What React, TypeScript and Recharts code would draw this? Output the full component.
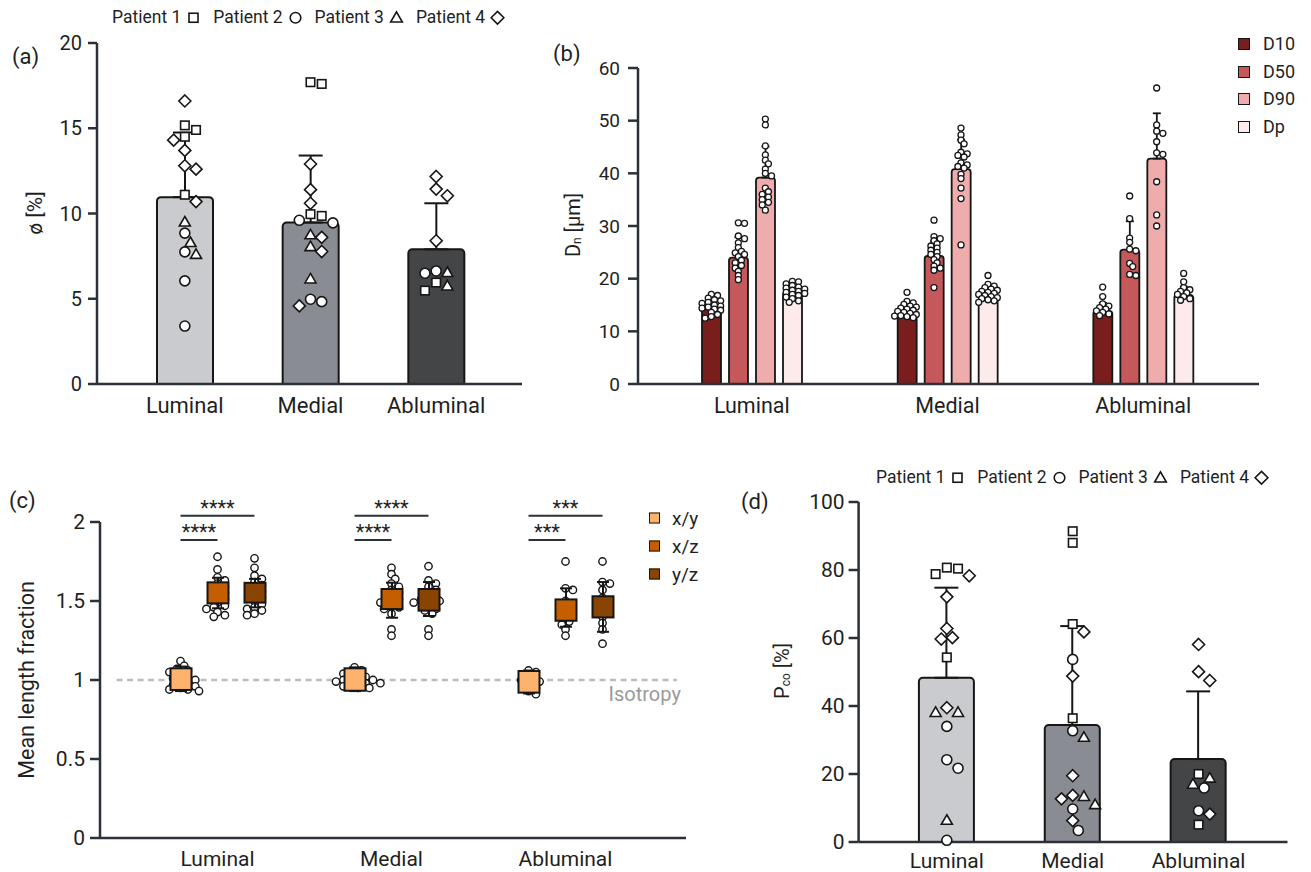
import React from "react";
import { ComposedChart, Bar, Scatter, XAxis, YAxis, ErrorBar, ReferenceLine, Cell } from "recharts";

const FONT = "Roboto, 'Noto Sans', 'DejaVu Sans', sans-serif";
const INK = "#1f1f1f";
const AXIS = "#2c3038";
const EDGE = "#161616";

const REGIONS = ["Luminal", "Medial", "Abluminal"];
const REGION_FILL = ["#c9cbce", "#8a8c93", "#444547"];
const PATIENTS = ["Patient 1", "Patient 2", "Patient 3", "Patient 4"];

// (a) porosity, mean + SD per region
const PHI_MEAN = [10.96, 9.47, 7.9];
const PHI_SD = [3.79, 3.93, 2.7];
// points per patient, indexed by region
const PHI_P1 = [[15.17, 14.9, 14.5, 11.1], [17.7, 17.6, 9.96, 9.86], [5.95, 5.48]];
const PHI_P2 = [[8.85, 7.75, 6.05, 3.4], [9.6, 9.45, 4.97, 4.83], [6.63, 6.5]];
const PHI_P3 = [[9.5, 8.3, 7.6], [8.75, 8.06, 6.16], [6.54, 5.75]];
const PHI_P4 = [[16.6, 14.3, 13.7, 12.8, 12.6, 10.7], [12.9, 11.4, 10.6, 8.6, 7.77, 4.58], [12.17, 11.43, 11.04, 8.4]];

// (b) particle sizes
const DN_KEYS = ["D10", "D50", "D90", "Dp"];
const DN_FILL = ["#7a1d1d", "#c4585a", "#eeacac", "#fcebea"];
const D10_MEAN = [14.8, 14.0, 13.9];
const D50_MEAN = [24.0, 24.3, 25.5];
const D90_MEAN = [39.2, 40.8, 42.8];
const DP_MEAN = [17.5, 16.6, 16.9];
const D10_SD = [1.3, 1.2, 1.5];
const D50_SD = [3.9, 2.8, 5.4];
const D90_SD = [5.9, 5.6, 8.6];
const DP_SD = [1.1, 1.2, 1.6];
const D10_PTS = [
  [17.0, 16.8, 16.3, 16.0, 15.8, 15.5, 15.3, 15.0, 14.8, 14.6, 14.4, 14.2, 14.0, 13.6, 13.2, 12.8, 12.5],
  [17.4, 15.7, 15.4, 15.1, 14.8, 14.6, 14.4, 14.2, 14.0, 13.8, 13.6, 13.4, 13.2, 13.0, 12.9, 12.8, 12.6],
  [18.4, 16.6, 15.2, 14.8, 14.5, 14.2, 13.9, 13.6, 13.3, 13.0],
];
const D50_PTS = [
  [30.6, 30.5, 28.1, 27.6, 26.8, 25.9, 25.2, 24.9, 24.6, 24.2, 23.5, 23.0, 22.5, 22.0, 21.4, 20.6, 19.8],
  [31.1, 28.0, 27.6, 27.2, 26.6, 26.2, 25.8, 25.4, 25.0, 24.6, 24.2, 23.6, 23.0, 22.4, 22.0, 21.6, 18.3],
  [35.7, 31.4, 27.7, 26.9, 25.6, 25.3, 22.9, 22.3, 20.8, 20.6],
];
const D90_PTS = [
  [50.3, 49.2, 45.2, 43.5, 42.5, 41.8, 40.8, 40.0, 39.5, 37.2, 36.5, 36.0, 35.5, 35.0, 34.5, 34.0, 33.0],
  [48.6, 47.3, 46.3, 45.6, 44.0, 43.7, 43.4, 43.1, 42.0, 41.6, 41.3, 41.0, 39.8, 39.0, 37.2, 35.2, 26.4],
  [56.2, 49.2, 48.0, 47.6, 46.0, 43.9, 43.6, 38.4, 32.1, 30.0],
];
const DP_PTS = [
  [19.5, 19.4, 19.0, 18.7, 18.4, 18.2, 18.0, 17.8, 17.6, 17.4, 17.2, 17.0, 16.8, 16.5, 16.2, 15.8, 15.5],
  [20.6, 18.9, 18.6, 18.3, 18.0, 17.8, 17.6, 17.4, 17.2, 17.0, 16.8, 16.6, 16.4, 16.2, 16.0, 15.8, 15.5],
  [21.0, 19.4, 18.3, 17.9, 17.6, 17.3, 17.0, 16.6, 16.2, 15.9],
];

// (c) mean length fractions: box [low, high], whiskers [low, high], points
const RATIO_KEYS = ["xy", "xz", "yz"];
const RATIO_NAMES = ["x/y", "x/z", "y/z"];
const RATIO_FILL = ["#fdb36e", "#c45e00", "#884400"];
const XY_BOX = [[0.937, 1.074], [0.932, 1.074], [0.92, 1.057]];
const XZ_BOX = [[1.485, 1.618], [1.449, 1.576], [1.375, 1.51]];
const YZ_BOX = [[1.49, 1.615], [1.439, 1.576], [1.396, 1.53]];
const XY_WHISK = [[0.93, 1.085], [0.93, 1.08], [0.915, 1.06]];
const XZ_WHISK = [[1.454, 1.647], [1.394, 1.616], [1.337, 1.58]];
const YZ_WHISK = [[1.46, 1.64], [1.405, 1.62], [1.305, 1.62]];
const XY_PTS = [
  [1.12, 1.09, 1.07, 1.06, 1.05, 1.03, 1.02, 1.01, 1.0, 0.99, 0.98, 0.97, 0.96, 0.95, 0.94, 0.94, 0.93],
  [1.08, 1.06, 1.05, 1.04, 1.03, 1.02, 1.01, 1.0, 1.0, 0.99, 0.99, 0.98, 0.98, 0.97, 0.96, 0.95, 0.95],
  [1.06, 1.05, 1.03, 1.01, 1.0, 0.99, 0.97, 0.95, 0.93, 0.91],
];
const XZ_PTS = [
  [1.78, 1.7, 1.65, 1.63, 1.61, 1.59, 1.57, 1.55, 1.53, 1.51, 1.49, 1.47, 1.46, 1.45, 1.43, 1.41, 1.4],
  [1.71, 1.67, 1.64, 1.61, 1.59, 1.57, 1.55, 1.53, 1.51, 1.5, 1.49, 1.47, 1.46, 1.45, 1.42, 1.32, 1.28],
  [1.75, 1.58, 1.57, 1.5, 1.45, 1.4, 1.37, 1.35, 1.32, 1.28],
];
const YZ_PTS = [
  [1.77, 1.71, 1.66, 1.64, 1.62, 1.6, 1.58, 1.56, 1.54, 1.52, 1.5, 1.48, 1.46, 1.45, 1.44, 1.42, 1.41],
  [1.72, 1.63, 1.61, 1.59, 1.57, 1.55, 1.53, 1.51, 1.51, 1.5, 1.49, 1.47, 1.45, 1.44, 1.42, 1.32, 1.28],
  [1.75, 1.62, 1.61, 1.57, 1.52, 1.45, 1.4, 1.36, 1.32, 1.23],
];
// significance brackets: region, from series, to series, level, stars
const SIG_REGION = [0, 0, 1, 1, 2, 2];
const SIG_FROM = [0, 0, 0, 0, 0, 0];
const SIG_TO = [2, 1, 2, 1, 2, 1];
const SIG_LEVEL = [2.04, 1.886, 2.04, 1.886, 2.04, 1.886];
const SIG_TEXT = ["****", "****", "****", "****", "***", "***"];
const ISO_VALUE = 1;
const ISO_SPAN = [-0.58, 2.64];

// (d) Pco
const PCO_MEAN = [48.3, 34.4, 24.4];
const PCO_SD = [26.5, 29.1, 19.9];
const PCO_P1 = [[80.7, 80.4, 78.8, 54.3], [91.4, 88.0, 64.1, 36.4], [20.0, 5.1]];
const PCO_P2 = [[34.0, 24.2, 21.7, 0.5], [53.7, 32.7, 9.7, 3.4], [15.9, 9.2]];
const PCO_P3 = [[38.1, 38.1, 6.4], [30.8, 13.4, 11.0], [18.8, 17.0]];
const PCO_P4 = [[78.3, 72.1, 62.8, 60.1, 59.7, 39.5], [61.8, 48.8, 19.5, 13.7, 12.7, 6.3], [58.1, 50.1, 47.5, 8.2]];

type Pt = { g: number; v: number; p: number; dx: number };

// simple beeswarm: horizontal pixel offsets; minDist is allowed centre distance in units of r
function swarm(vals: number[], ppu: number, r: number, minDist: number): number[] {
  const placed: [number, number][] = [];
  const lim = (minDist * r) ** 2;
  return vals.map((v) => {
    const y = v * ppu;
    for (let k = 0; k < 40; k++) {
      const x = k === 0 ? 0 : (k % 2 ? 1 : -1) * Math.ceil(k / 2) * r;
      if (placed.every(([px, py]) => (px - x) ** 2 + (py - y) ** 2 >= lim)) {
        placed.push([x, y]);
        return x;
      }
    }
    return 0;
  });
}

function patientRows(byPatient: number[][][], ppu: number, r: number): Pt[] {
  const rows: Pt[] = [];
  REGIONS.forEach((_, g) => {
    const pts = byPatient.flatMap((arr, p) => arr[g].map((v) => ({ g, v, p, dx: 0 })));
    pts.sort((a, b) => b.v - a.v);
    const dx = swarm(pts.map((d) => d.v), ppu, r, 1.9);
    pts.forEach((d, i) => rows.push({ ...d, dx: dx[i] }));
  });
  return rows;
}

function plainRows(byRegion: number[][], ppu: number, r: number, minDist: number): Pt[] {
  const rows: Pt[] = [];
  byRegion.forEach((vals, g) => {
    const sorted = [...vals].sort((a, b) => b - a);
    const dx = swarm(sorted, ppu, r, minDist);
    sorted.forEach((v, i) => rows.push({ g, v, p: 1, dx: dx[i] }));
  });
  return rows;
}

function Marker({ kind, x, y, s }: { kind: number; x: number; y: number; s: number }) {
  const st = { fill: "#fff", stroke: EDGE, strokeWidth: 1.6 };
  if (kind === 0) return <rect x={x - s * 0.85} y={y - s * 0.85} width={s * 1.7} height={s * 1.7} {...st} />;
  if (kind === 1) return <circle cx={x} cy={y} r={s} {...st} />;
  if (kind === 2)
    return <polygon points={`${x},${y - s * 1.1} ${x + s * 1.1},${y + s * 0.8} ${x - s * 1.1},${y + s * 0.8}`} {...st} />;
  return <polygon points={`${x},${y - s * 1.2} ${x + s * 1.2},${y} ${x},${y + s * 1.2} ${x - s * 1.2},${y}`} {...st} />;
}

function Txt({ x, y, size = 20, anchor = "start", rotate = false, color = INK, children }: any) {
  const tx = anchor === "middle" || rotate ? "-50%" : anchor === "end" ? "-100%" : "0";
  return (
    <div
      style={{
        position: "absolute",
        left: x,
        top: y,
        transform: `translate(${tx}, -50%)${rotate ? " rotate(-90deg)" : ""}`,
        fontSize: size,
        fontFamily: FONT,
        color,
        whiteSpace: "nowrap",
        lineHeight: 1,
      }}
    >
      {children}
    </div>
  );
}

function PatientLegend({ x, y }: { x: number; y: number }) {
  return (
    <div
      style={{
        position: "absolute",
        left: x,
        top: y,
        transform: "translateY(-50%)",
        display: "flex",
        alignItems: "center",
        fontFamily: FONT,
        fontSize: 17.5,
        color: INK,
        whiteSpace: "nowrap",
        lineHeight: 1,
      }}
    >
      {PATIENTS.map((p, i) => (
        <span key={p} style={{ display: "flex", alignItems: "center", marginRight: i < 3 ? 11 : 0 }}>
          {p}
          <svg width={17} height={17} style={{ marginLeft: 4 }}>
            <Marker kind={i} x={8.5} y={8.5} s={5.3} />
          </svg>
        </span>
      ))}
    </div>
  );
}

const axisStyle = { stroke: AXIS, strokeWidth: 2.5 };
const X_H = 20; // x-axis band height reserved by recharts

// ---------- (a) ----------
const A_W = 540, A_H = 420;
const A_M = { top: 43, right: 18, bottom: 36 - X_H, left: 52 };
const A_PAD = { left: 25, right: 23 };
const A_PPU = (A_H - A_M.top - A_M.bottom - X_H) / 20;

function PanelA() {
  const data = REGIONS.map((name, i) => ({ name, mean: PHI_MEAN[i], err: [0, PHI_SD[i]] }));
  const pts = patientRows([PHI_P1, PHI_P2, PHI_P3, PHI_P4], A_PPU, 5.6);
  return (
    <ComposedChart width={A_W} height={A_H} data={data} margin={A_M}>
      <XAxis dataKey="name" height={X_H} tickSize={0} tickMargin={13} axisLine={axisStyle} padding={A_PAD}
        tick={{ fill: INK, fontSize: 22, fontFamily: FONT }} />
      <XAxis xAxisId="s" type="number" dataKey="g" domain={[-0.5, 2.5]} hide padding={A_PAD} />
      <YAxis domain={[0, 20]} ticks={[0, 5, 10, 15, 20]} width={45} tickSize={9} tickMargin={6}
        axisLine={axisStyle} tickLine={axisStyle} tick={{ fill: INK, fontSize: 20, fontFamily: FONT }} />
      <Bar dataKey="mean" barSize={56} stroke={EDGE} strokeWidth={2} radius={[4, 4, 0, 0]} isAnimationActive={false}>
        {data.map((_, i) => <Cell key={i} fill={REGION_FILL[i]} />)}
        <ErrorBar dataKey="err" width={12} stroke={EDGE} strokeWidth={2} direction="y" isAnimationActive={false} />
      </Bar>
      <Scatter xAxisId="s" data={pts} dataKey="v" isAnimationActive={false}
        shape={(p: any) => <Marker kind={p.payload.p} x={p.cx + p.payload.dx} y={p.cy} s={5} />} />
    </ComposedChart>
  );
}

// ---------- (b) ----------
const B_W = 720, B_H = 420;
const B_M = { top: 68, right: 21, bottom: 36 - X_H, left: 33 };
const B_PAD = { left: 16, right: 18 };
const B_BAR = 19, B_GAP = 8;
const B_PPU = (B_H - B_M.top - B_M.bottom - X_H) / 60;

function PanelB() {
  const means = [D10_MEAN, D50_MEAN, D90_MEAN, DP_MEAN];
  const sds = [D10_SD, D50_SD, D90_SD, DP_SD];
  const pts = [D10_PTS, D50_PTS, D90_PTS, DP_PTS].map((arr) => plainRows(arr, B_PPU, 3.1, 1.35));
  const data = REGIONS.map((name, g) => {
    const row: any = { name };
    DN_KEYS.forEach((k, t) => {
      row[k] = means[t][g];
      row[k + "e"] = [0, sds[t][g]];
    });
    return row;
  });
  return (
    <ComposedChart width={B_W} height={B_H} data={data} margin={B_M} barGap={B_GAP}>
      <XAxis dataKey="name" height={X_H} tickSize={0} tickMargin={14} axisLine={axisStyle} padding={B_PAD}
        tick={{ fill: INK, fontSize: 21.5, fontFamily: FONT }} />
      <XAxis xAxisId="s" type="number" dataKey="g" domain={[-0.5, 2.5]} hide padding={B_PAD} />
      <YAxis domain={[0, 60]} ticks={[0, 10, 20, 30, 40, 50, 60]} width={45} tickSize={10} tickMargin={8}
        axisLine={axisStyle} tickLine={axisStyle} tick={{ fill: INK, fontSize: 19, fontFamily: FONT }} />
      {DN_KEYS.map((k, t) => (
        <Bar key={k} dataKey={k} barSize={B_BAR} fill={DN_FILL[t]} stroke={EDGE} strokeWidth={1.8}
          radius={[3, 3, 0, 0]} isAnimationActive={false}>
          <ErrorBar dataKey={k + "e"} width={4} stroke={EDGE} strokeWidth={1.8} direction="y" isAnimationActive={false} />
        </Bar>
      ))}
      {DN_KEYS.map((k, t) => (
        <Scatter key={"s" + k} xAxisId="s" data={pts[t]} dataKey="v" isAnimationActive={false}
          shape={(p: any) => (
            <circle cx={p.cx + (t - 1.5) * (B_BAR + B_GAP) + p.payload.dx} cy={p.cy} r={3}
              fill="#fff" stroke={EDGE} strokeWidth={1.3} />
          )} />
      ))}
    </ComposedChart>
  );
}

// ---------- (c) ----------
const C_W = 720, C_H = 432;
const C_YW = 50;
const C_M = { top: 82, right: 34, bottom: 34 - X_H, left: 50 };
const C_PAD = { left: 30.5, right: 33.5 };
const C_BAR = 21, C_GAP = 16;
const C_PPU = (C_H - C_M.top - C_M.bottom - X_H) / 2;
const C_BAND = (C_W - C_M.left - C_YW - C_M.right - C_PAD.left - C_PAD.right) / 3;
const cOff = (t: number) => ((t - 1) * (C_BAR + C_GAP)) / C_BAND;

function boxShape(key: string) {
  return (props: any) => {
    const { x, y, width, height, payload, fill } = props;
    const [lo, hi] = payload[key];
    const [wlo, whi] = payload[key + "W"];
    const top = Math.min(y, y + height);
    const bot = Math.max(y, y + height);
    const cx = x + width / 2;
    const yHi = top - (whi - hi) * C_PPU;
    const yLo = bot + (lo - wlo) * C_PPU;
    const cap = 6;
    return (
      <g>
        <line x1={cx} x2={cx} y1={yHi} y2={yLo} stroke={EDGE} strokeWidth={2} />
        <line x1={cx - cap} x2={cx + cap} y1={yHi} y2={yHi} stroke={EDGE} strokeWidth={2} />
        <line x1={cx - cap} x2={cx + cap} y1={yLo} y2={yLo} stroke={EDGE} strokeWidth={2} />
        <rect x={x} y={top} width={width} height={bot - top} fill={fill} stroke={EDGE} strokeWidth={2} />
      </g>
    );
  };
}

// lower layer of (c): isotropy line, brackets and the individual points, drawn beneath the boxes
function PanelCDots() {
  const pts = [XY_PTS, XZ_PTS, YZ_PTS].map((arr) => plainRows(arr, C_PPU, 3.7, 1.35));
  const margin = { ...C_M, left: C_M.left + C_YW, bottom: C_M.bottom + X_H };
  return (
    <ComposedChart width={C_W} height={C_H} margin={margin}>
      <XAxis xAxisId="s" type="number" dataKey="g" domain={[-0.5, 2.5]} hide padding={C_PAD} />
      <YAxis domain={[0, 2]} hide />
      <ReferenceLine xAxisId="s" segment={[{ x: ISO_SPAN[0], y: ISO_VALUE }, { x: ISO_SPAN[1], y: ISO_VALUE }]}
        stroke="#bdbdbd" strokeWidth={2.5} strokeDasharray="6 4.5" ifOverflow="visible"
        label={(p: any) => {
          const vb = p.viewBox || {};
          return (
            <text x={(vb.x || 0) + (vb.width || 0) + 4} y={(vb.y || 0) + 21} textAnchor="end"
              fill="#9a9a9a" fontSize={20} fontFamily={FONT}>Isotropy</text>
          );
        }} />
      {SIG_REGION.map((g, i) => (
        <ReferenceLine key={"sig" + i} xAxisId="s" ifOverflow="visible" stroke={AXIS} strokeWidth={2}
          segment={[{ x: g + cOff(SIG_FROM[i]), y: SIG_LEVEL[i] }, { x: g + cOff(SIG_TO[i]), y: SIG_LEVEL[i] }]}
          label={{ value: SIG_TEXT[i], position: "top", offset: 1, fill: INK, fontSize: 20, fontFamily: FONT }} />
      ))}
      {RATIO_KEYS.map((k, t) => (
        <Scatter key={"s" + k} xAxisId="s" data={pts[t]} dataKey="v" isAnimationActive={false}
          shape={(p: any) => (
            <circle cx={p.cx + (t - 1) * (C_BAR + C_GAP) + p.payload.dx} cy={p.cy} r={3.7}
              fill="#fff" stroke={EDGE} strokeWidth={1.4} />
          )} />
      ))}
    </ComposedChart>
  );
}

function PanelC() {
  const boxes = [XY_BOX, XZ_BOX, YZ_BOX];
  const whisks = [XY_WHISK, XZ_WHISK, YZ_WHISK];
  const data = REGIONS.map((name, g) => {
    const row: any = { name };
    RATIO_KEYS.forEach((k, t) => {
      row[k] = boxes[t][g];
      row[k + "W"] = whisks[t][g];
    });
    return row;
  });
  return (
    <ComposedChart width={C_W} height={C_H} data={data} margin={C_M} barGap={C_GAP}>
      <XAxis dataKey="name" height={X_H} tickSize={0} tickMargin={13} axisLine={axisStyle} padding={C_PAD}
        tick={{ fill: INK, fontSize: 21, fontFamily: FONT }} />
      <YAxis domain={[0, 2]} ticks={[0, 0.5, 1, 1.5, 2]} width={C_YW} tickSize={10} tickMargin={5}
        axisLine={axisStyle} tickLine={axisStyle} tick={{ fill: INK, fontSize: 21, fontFamily: FONT }} />
      {RATIO_KEYS.map((k, t) => (
        <Bar key={k} dataKey={k} barSize={C_BAR} fill={RATIO_FILL[t]} isAnimationActive={false} shape={boxShape(k)} />
      ))}
    </ComposedChart>
  );
}

// ---------- (d) ----------
const D_W = 571, D_H = 432;
const D_M = { top: 62, right: 23.5, bottom: 30 - X_H, left: 68.6 };
const D_PAD = { left: 25.3, right: 26 };
const D_PPU = (D_H - D_M.top - D_M.bottom - X_H) / 100;

function PanelD() {
  const data = REGIONS.map((name, i) => ({ name, mean: PCO_MEAN[i], err: [0, PCO_SD[i]] }));
  const pts = patientRows([PCO_P1, PCO_P2, PCO_P3, PCO_P4], D_PPU, 5.6);
  return (
    <ComposedChart width={D_W} height={D_H} data={data} margin={D_M}>
      <XAxis dataKey="name" height={X_H} tickSize={0} tickMargin={11} axisLine={axisStyle} padding={D_PAD}
        tick={{ fill: INK, fontSize: 21, fontFamily: FONT }} />
      <XAxis xAxisId="s" type="number" dataKey="g" domain={[-0.5, 2.5]} hide padding={D_PAD} />
      <YAxis domain={[0, 100]} ticks={[0, 20, 40, 60, 80, 100]} width={50} tickSize={10} tickMargin={4}
        axisLine={axisStyle} tickLine={axisStyle} tick={{ fill: INK, fontSize: 21, fontFamily: FONT }} />
      <Bar dataKey="mean" barSize={55} stroke={EDGE} strokeWidth={2} radius={[4, 4, 0, 0]} isAnimationActive={false}>
        {data.map((_, i) => <Cell key={i} fill={REGION_FILL[i]} />)}
        <ErrorBar dataKey="err" width={12} stroke={EDGE} strokeWidth={2} direction="y" isAnimationActive={false} />
      </Bar>
      <Scatter xAxisId="s" data={pts} dataKey="v" isAnimationActive={false}
        shape={(p: any) => <Marker kind={p.payload.p} x={p.cx + p.payload.dx} y={p.cy} s={5} />} />
    </ComposedChart>
  );
}

export default function App() {
  return (
    <div style={{ position: "absolute", left: 0, top: 0, width: 1311, height: 872, background: "#fff", overflow: "hidden" }}>
      <div style={{ position: "absolute", left: 0, top: 0 }}><PanelA /></div>
      <div style={{ position: "absolute", left: 560, top: 0 }}><PanelB /></div>
      <div style={{ position: "absolute", left: 0, top: 440 }}><PanelCDots /></div>
      <div style={{ position: "absolute", left: 0, top: 440 }}><PanelC /></div>
      <div style={{ position: "absolute", left: 740, top: 440 }}><PanelD /></div>

      <Txt x={12} y={57} size={22}>(a)</Txt>
      <Txt x={553} y={54} size={22}>(b)</Txt>
      <Txt x={9} y={501} size={22}>(c)</Txt>
      <Txt x={741} y={502} size={22}>(d)</Txt>

      <PatientLegend x={112} y={18} />
      <PatientLegend x={876} y={478} />

      <Txt x={35} y={213} size={21} rotate>ø [%]</Txt>
      <Txt x={573} y={225} size={20} rotate>
        D<sub style={{ fontSize: "0.6em", verticalAlign: "-0.15em" }}>n</sub> [µm]
      </Txt>
      <Txt x={27} y={680} size={21.5} rotate>Mean length fraction</Txt>
      <Txt x={782} y={671} size={20} rotate>
        P<sub style={{ fontSize: "0.6em", verticalAlign: "-0.15em" }}>co</sub> [%]
      </Txt>

      {DN_KEYS.map((k, t) => (
        <div key={k} style={{ position: "absolute", left: 1238, top: 44 + t * 27.7, transform: "translateY(-50%)", display: "flex", alignItems: "center" }}>
          <span style={{ width: 10, height: 10, background: DN_FILL[t], border: `1.5px solid ${EDGE}`, display: "inline-block" }} />
          <span style={{ marginLeft: 13, fontFamily: FONT, fontSize: 18, color: INK, lineHeight: 1 }}>{k}</span>
        </div>
      ))}
      {RATIO_NAMES.map((k, t) => (
        <div key={k} style={{ position: "absolute", left: 649, top: 518 + t * 28, transform: "translateY(-50%)", display: "flex", alignItems: "center" }}>
          <span style={{ width: 9, height: 9, background: RATIO_FILL[t], border: `1.5px solid ${EDGE}`, display: "inline-block" }} />
          <span style={{ marginLeft: 12, fontFamily: FONT, fontSize: 19, color: INK, lineHeight: 1 }}>{k}</span>
        </div>
      ))}
    </div>
  );
}
